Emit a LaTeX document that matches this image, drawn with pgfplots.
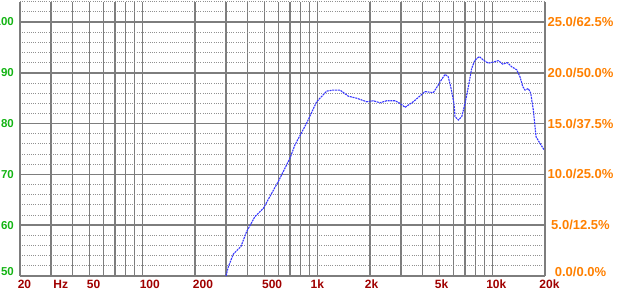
\documentclass[border=0pt]{standalone}
\usepackage{fontspec}
\setmainfont{Liberation Sans}
\usepackage{pgfplots}
\pgfplotsset{compat=1.18}
\definecolor{gridgray}{RGB}{125,125,125}
\definecolor{dotgray}{RGB}{145,145,145}
\definecolor{lblgreen}{RGB}{20,180,20}
\definecolor{lblorange}{RGB}{255,128,0}
\definecolor{lblred}{RGB}{160,0,0}
\definecolor{curveblue}{RGB}{55,55,255}
\begin{document}
\begin{tikzpicture}
\useasboundingbox (-20pt,-18pt) rectangle (598pt,276pt);
\begin{axis}[
  at={(0,0)}, anchor=south west,
  scale only axis, width=525pt, height=274.3pt,
  xmode=log, xmin=20, xmax=20000, ymin=50, ymax=104,
  axis x line*=bottom, axis y line*=left,
  axis line style={gridgray, line width=1.5pt},
  major tick length=0pt, minor tick length=0pt,
  xtick={20,30,40,50,60,70,80,90,100,200,300,400,500,600,700,800,900,1000,2000,3000,4000,5000,6000,7000,8000,9000,10000,20000},
  xticklabels={{\hspace*{9pt}20},{\hspace*{20pt}Hz},,{\hspace*{8pt}50},,,,,{\hspace*{15pt}100},{\hspace*{16pt}200},,,{\hspace*{15pt}500},,,,,1k,{\hspace*{3pt}2k},,,{\hspace*{4pt}5k},,,,,{\hspace*{8pt}10k},{\hspace*{9pt}20k}},
  xticklabel style={font=\bfseries\fontsize{12}{12}\selectfont, text=lblred, anchor=north, inner sep=0pt, yshift=-4pt},
  ytick={60,70,80,90,100},
  yticklabels={60,70,80,90,100},
  extra y ticks={50}, extra y tick labels={50},
  extra y tick style={grid=none, yticklabel style={yshift=4pt}},
  minor ytick={52,54,56,58,62,64,66,68,72,74,76,78,82,84,86,88,92,94,96,98,102,104},
  yticklabel style={font=\bfseries\fontsize{11.5}{12}\selectfont, text=lblgreen, anchor=east, inner sep=0pt, xshift=-6pt},
  xmajorgrids, ymajorgrids, yminorgrids,
  major grid style={gridgray, line width=1.5pt},
  minor grid style={dotgray, line width=0.9pt, dash pattern=on 1pt off 1.2pt},
]
\addplot[curveblue, line width=1.1pt, dash pattern=on 2pt off 0.8pt] table {
300.8 50.0
310 51.8
331 54.3
353 55.3
366 55.8
394 58.7
440 61.7
491 63.3
598 68.6
698 73.2
745 75.8
869 80.1
991 84.3
1131 86.4
1234 86.6
1348 86.6
1503 85.4
1679 85.0
1915 84.3
2090 84.5
2281 84.1
2490 84.5
2780 84.5
2967 84.0
3170 83.2
3532 84.3
4124 86.3
4600 86.1
4912 87.6
5024 88.2
5370 89.7
5600 89.2
5780 87.3
5940 85.3
6050 83.7
6120 81.4
6400 80.7
6690 81.4
6985 84.0
7300 87.3
7625 90.9
7962 92.5
8430 93.2
8880 92.5
9480 91.9
10360 92.2
10820 92.4
11460 91.7
12180 92.0
12900 91.2
13780 90.6
14400 89.2
14920 87.3
15380 86.6
16070 86.9
16570 86.0
17150 82.7
17780 77.4
18730 76.1
19800 74.8
};
\end{axis}
\begin{axis}[
  at={(0,0)}, anchor=south west,
  scale only axis, width=525pt, height=274.3pt,
  xmin=0, xmax=1, ymin=50, ymax=104,
  axis x line=none, axis y line*=right,
  axis line style={gridgray, line width=1.5pt},
  major tick length=0pt, minor tick length=0pt,
  ytick={60,70,80,90,100},
  yticklabels={5.0/12.5\%,10.0/25.0\%,15.0/37.5\%,20.0/50.0\%,25.0/62.5\%},
  extra y ticks={50}, extra y tick labels={0.0/0.0\%},
  extra y tick style={yticklabel style={yshift=4pt}},
  yticklabel style={font=\bfseries\fontsize{13}{13}\selectfont, text=lblorange, anchor=center, inner sep=0pt, xshift=35.5pt},
]
\end{axis}
\end{tikzpicture}
\end{document}
